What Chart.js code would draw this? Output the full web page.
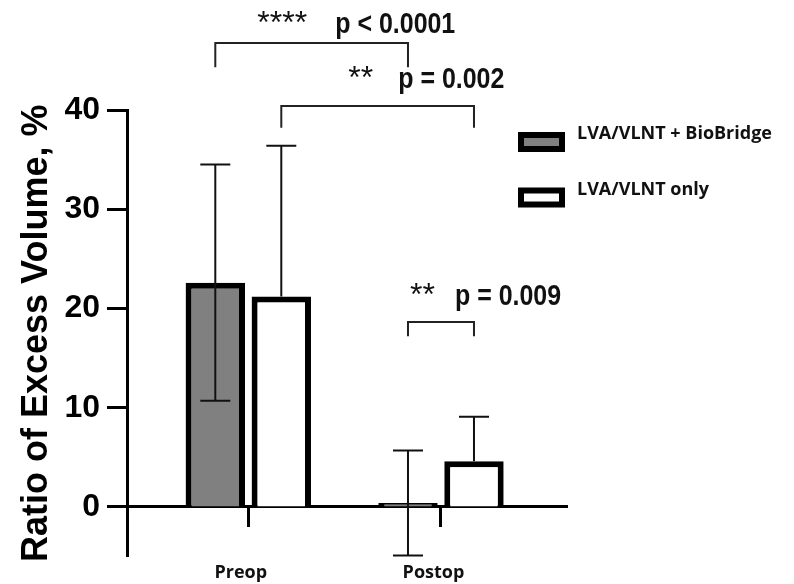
<!DOCTYPE html>
<html><head><meta charset="utf-8">
<script src="https://cdn.jsdelivr.net/npm/chart.js@4.4.1/dist/chart.umd.min.js"></script>
<style>html,body{margin:0;padding:0;background:#fff;}</style>
</head><body>
<canvas id="c" width="794" height="584"></canvas>
<script>
// ---- data ----
const categories = ['Preop', 'Postop'];
const seriesNames = ['LVA/VLNT + BioBridge', 'LVA/VLNT only'];
const bioBridgeMean = [22.6, 0.4];
const bioBridgeSD = [11.9, 5.3];
const onlyMean = [21.2, 4.6];
const onlySD = [15.2, 4.5];
const yTicks = [0, 10, 20, 30, 40];
const yTitle = 'Ratio of Excess Volume, %';
// comparisons: [datasetIndex, categoryIndex] pairs
const compStars = ['****', '**', '**'];
const compP = ['p < 0.0001', 'p = 0.002', 'p = 0.009'];
const compFrom = [[0, 0], [1, 0], [0, 1]];
const compTo = [[0, 1], [1, 1], [1, 1]];

// ---- layout / style for annotations ----
const bracketLevels = [[46.75, 44.3], [40.4, 38.2], [18.64, 17.2]]; // y-scale units
const textLayout = [
  {starsDx: 42, pDx: 120, dy: -10},
  {starsDx: 67, pDx: 117, dy: -18},
  {starsDx: 2, pDx: 47, dy: -17}
];
const P_FONT = "bold 29px 'Liberation Sans', Arial, sans-serif";
const P_SCALE_X = 0.86;
const LEGEND_FONT = "bold 18px 'Open Sans', sans-serif";

const overlay = {
  id: 'overlay',
  afterDatasetsDraw(chart) {
    const ctx = chart.ctx, ys = chart.scales.y;
    chart.data.datasets.forEach((ds, di) => {
      const meta = chart.getDatasetMeta(di);
      meta.data.forEach((bar, i) => {
        const m = ds.data[i].y, sd = ds.sd[i];
        const x = bar.x;
        const yTop = ys.getPixelForValue(m + sd);
        const yBot = ds.errBoth ? ys.getPixelForValue(m - sd) : bar.y;
        ctx.save();
        ctx.strokeStyle = '#111';
        ctx.lineWidth = 2;
        ctx.beginPath();
        ctx.moveTo(x, yTop); ctx.lineTo(x, yBot);
        ctx.moveTo(x - 15, yTop); ctx.lineTo(x + 15, yTop);
        if (ds.errBoth) { ctx.moveTo(x - 15, yBot); ctx.lineTo(x + 15, yBot); }
        ctx.stroke();
        ctx.restore();
      });
    });
  },
  afterDraw(chart) {
    const ctx = chart.ctx, ys = chart.scales.y;
    // brackets
    compFrom.forEach((f, k) => {
      const t = compTo[k];
      const x1 = chart.getDatasetMeta(f[0]).data[f[1]].x;
      const x2 = chart.getDatasetMeta(t[0]).data[t[1]].x;
      const yH = ys.getPixelForValue(bracketLevels[k][0]);
      const yL = ys.getPixelForValue(bracketLevels[k][1]);
      ctx.save();
      ctx.strokeStyle = '#222';
      ctx.lineWidth = 2;
      ctx.beginPath();
      ctx.moveTo(x1, yL); ctx.lineTo(x1, yH); ctx.lineTo(x2, yH); ctx.lineTo(x2, yL);
      ctx.stroke();
      const L = textLayout[k];
      ctx.fillStyle = '#111';
      ctx.textBaseline = 'alphabetic';
      ctx.textAlign = 'left';
      ctx.font = "32px 'Liberation Sans', sans-serif";
      ctx.fillText(compStars[k], x1 + L.starsDx, yH + L.dy);
      ctx.font = P_FONT;
      ctx.translate(x1 + L.pDx, yH + L.dy);
      ctx.scale(P_SCALE_X, 1);
      ctx.fillText(compP[k], 0, 0);
      ctx.restore();
    });
    // legend
    chart.data.datasets.forEach((ds, di) => {
      const bx = 518, by = 132 + di * 55.5, bw = 47, bh = 20, bwid = 6;
      ctx.save();
      ctx.fillStyle = '#000';
      ctx.fillRect(bx, by, bw, bh);
      ctx.fillStyle = ds.backgroundColor;
      ctx.fillRect(bx + bwid, by + bwid, bw - 2 * bwid, bh - 2 * bwid);
      ctx.fillStyle = '#111';
      ctx.font = LEGEND_FONT;
      ctx.textBaseline = 'alphabetic';
      ctx.textAlign = 'left';
      ctx.fillText(ds.label, 577, by + 7);
      ctx.restore();
    });
  }
};

const mk = (arr) => arr.map((v, i) => ({x: i, y: v}));

new Chart(document.getElementById('c'), {
  type: 'bar',
  data: {
    datasets: [
      {label: seriesNames[0], data: mk(bioBridgeMean), sd: bioBridgeSD, errBoth: true,
       backgroundColor: '#808080', borderColor: '#000', borderWidth: 6,
       categoryPercentage: 0.685, barPercentage: 0.9},
      {label: seriesNames[1], data: mk(onlyMean), sd: onlySD, errBoth: false,
       backgroundColor: '#ffffff', borderColor: '#000', borderWidth: 6,
       categoryPercentage: 0.685, barPercentage: 0.9}
    ]
  },
  options: {
    responsive: false,
    animation: false,
    devicePixelRatio: 1,
    layout: {padding: {top: 110, bottom: 27.4, left: 0, right: 227}},
    plugins: {legend: {display: false}, tooltip: {enabled: false}},
    scales: {
      x: {
        type: 'linear',
        position: {y: 0},
        offset: false,
        min: -0.6295, max: 1.654,
        afterBuildTicks: (s) => { s.ticks = categories.map((c, i) => ({value: i})); },
        ticks: {
          callback: (v) => categories[v],
          font: {family: "'Open Sans', sans-serif", weight: 'bold', size: 18},
          color: '#111', padding: 36, labelOffset: -7.5, maxRotation: 0, autoSkip: false
        },
        grid: {offset: false, drawOnChartArea: false, drawTicks: true, tickLength: 19, tickWidth: 3, tickColor: '#000'},
        border: {display: true, color: '#000', width: 3}
      },
      y: {
        type: 'linear',
        position: 'left',
        min: -5, max: 40,
        afterBuildTicks: (s) => { s.ticks = yTicks.map(v => ({value: v})); },
        afterFit: (s) => { s.width = 127; },
        ticks: {
          font: {family: "'Liberation Sans', Arial, sans-serif", weight: 'bold', size: 32},
          color: '#000', padding: 7
        },
        grid: {drawOnChartArea: false, drawTicks: true, tickLength: 20, tickWidth: 3, tickColor: '#000'},
        border: {display: true, color: '#000', width: 3},
        title: {
          display: true, text: yTitle, color: '#000',
          font: {family: "'Liberation Sans', Arial, sans-serif", weight: 'bold', size: 36},
          padding: {top: 15, bottom: 0}
        }
      }
    }
  },
  plugins: [overlay]
});
</script>
</body></html>
